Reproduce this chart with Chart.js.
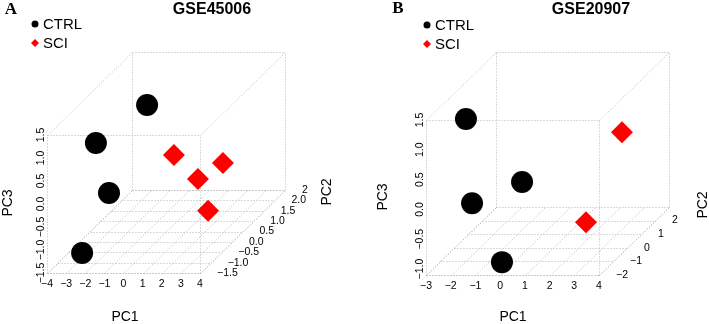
<!DOCTYPE html>
<html>
<head>
<meta charset="utf-8">
<script src="https://cdn.jsdelivr.net/npm/chart.js@4/dist/chart.umd.min.js"></script>
<style>
  html, body { margin: 0; padding: 0; background: #fff; }
  #wrap { position: relative; width: 709px; height: 324px; }
  #wrap canvas { position: absolute; top: 0; }
</style>
</head>
<body>
<div id="wrap">
  <canvas id="chartA" width="355" height="324" style="left:0px"></canvas>
  <canvas id="chartB" width="354" height="324" style="left:355px"></canvas>
</div>
<script>
// ---- GSE45006 (panel A) ----
const ctrlA_pc1 = [-2.10, -3.11, -1.87, -2.72];
const ctrlA_pc2 = [1.5, 0.0, -0.5, -1.0];
const ctrlA_pc3 = [0.80, 0.65, -0.21, -1.29];
const sciA_pc1 = [-0.14, 1.31, 0.56, 2.20];
const sciA_pc2 = [1.0, 2.0, 1.5, 0.5];
const sciA_pc3 = [-0.06, -0.69, -0.81, -1.05];

const pc1RangeA = [-4, 4];
const pc2RangeA = [-1.5, 2.5];
const pc3RangeA = [-1.5, 1.5];
const pc1TicksA = [-4, -3, -2, -1, 0, 1, 2, 3, 4];
const pc1LabelsA = ['\u22124', '\u22123', '\u22122', '\u22121', '0', '1', '2', '3', '4'];
const pc2TicksA = [-1.5, -1.0, -0.5, 0.0, 0.5, 1.0, 1.5, 2.0, 2.5];
const pc2LabelsA = ['\u22121.5', '\u22121.0', '\u22120.5', '0.0', '0.5', '1.0', '1.5', '2.0', '2'];
const pc3TicksA = [-1.5, -1.0, -0.5, 0.0, 0.5, 1.0, 1.5];
const pc3LabelsA = ['\u22121.5', '\u22121.0', '\u22120.5', '0.0', '0.5', '1.0', '1.5'];

// ---- GSE20907 (panel B) ----
const ctrlB_pc1 = [-1.95, -1.42, -0.53, -0.04];
const ctrlB_pc2 = [-1.0, -1.5, 0.5, -1.8];
const ctrlB_pc3 = [1.29, -0.01, -0.11, -0.93];
const sciB_pc1 = [2.38, 2.34];
const sciB_pc2 = [2.5, 0.0];
const sciB_pc3 = [0.27, -0.67];

const pc1RangeB = [-3, 4];
const pc2RangeB = [-2, 3];
const pc3RangeB = [-1.1, 1.5];
const pc1TicksB = [-3, -2, -1, 0, 1, 2, 3, 4];
const pc1LabelsB = ['\u22123', '\u22122', '\u22121', '0', '1', '2', '3', '4'];
const pc2TicksB = [-2, -1, 0, 1, 2];
const pc2LabelsB = ['\u22122', '\u22121', '0', '1', '2'];
const pc3TicksB = [-1.0, -0.5, 0.0, 0.5, 1.0, 1.5];
const pc3LabelsB = ['\u22121.0', '\u22120.5', '0.0', '0.5', '1.0', '1.5'];

const groupNames = ['CTRL', 'SCI'];
const groupColors = ['#000000', '#ff0000'];
const groupShapes = ['circle', 'rectRot'];

const FONT = '"Liberation Sans", Arial, sans-serif';

// oblique projection: PC2 moves points up and to the right
function project(p, x, y, z) {
    var t = (y - p.pc2Range[0]) / (p.pc2Range[1] - p.pc2Range[0]);
    var xs = p.pc1Range[1] - p.pc1Range[0];
    var zs = p.pc3Range[1] - p.pc3Range[0];
    return { x: x + t * xs * p.depth[0] / p.front[0], y: z + t * zs * p.depth[1] / p.front[1] };
}

const box3dPlugin = {
    id: 'box3d',
    beforeDatasetsDraw(chart, args, opts) {
        const p = opts.panel;
        const ctx = chart.ctx;
        const sx = chart.scales.x, sy = chart.scales.y;
        const pt = (x, y, z) => { const q = project(p, x, y, z); return [sx.getPixelForValue(q.x), sy.getPixelForValue(q.y)]; };
        const seg = (a, b) => { ctx.beginPath(); ctx.moveTo(Math.round(a[0]) + 0.5, Math.round(a[1]) + 0.5); ctx.lineTo(Math.round(b[0]) + 0.5, Math.round(b[1]) + 0.5); ctx.stroke(); };
        const [x0, x1] = p.pc1Range, [y0, y1] = p.pc2Range, [z0, z1] = p.pc3Range;

        ctx.save();
        ctx.strokeStyle = '#b4b4b4';
        ctx.lineWidth = 1;
        ctx.setLineDash([1, 2]);
        // floor grid
        p.pc1Ticks.forEach(x => seg(pt(x, y0, z0), pt(x, y1, z0)));
        p.pc2Ticks.forEach(y => seg(pt(x0, y, z0), pt(x1, y, z0)));
        // box
        [y0, y1].forEach(y => {
            seg(pt(x0, y, z0), pt(x1, y, z0));
            seg(pt(x0, y, z1), pt(x1, y, z1));
            seg(pt(x0, y, z0), pt(x0, y, z1));
            seg(pt(x1, y, z0), pt(x1, y, z1));
        });
        [[x0, z0], [x1, z0], [x0, z1], [x1, z1]].forEach(c => seg(pt(c[0], y0, c[1]), pt(c[0], y1, c[1])));
        ctx.restore();
    },
    afterDraw(chart, args, opts) {
        const p = opts.panel;
        const ctx = chart.ctx;
        const sx = chart.scales.x, sy = chart.scales.y;
        const pt = (x, y, z) => { const q = project(p, x, y, z); return [sx.getPixelForValue(q.x), sy.getPixelForValue(q.y)]; };
        const [x0, x1] = p.pc1Range, [y0, y1] = p.pc2Range, [z0, z1] = p.pc3Range;

        ctx.save();
        ctx.fillStyle = '#000';

        // tick labels
        ctx.font = '10.5px ' + FONT;
        ctx.textAlign = 'center';
        ctx.textBaseline = 'middle';
        p.pc1Ticks.forEach((x, i) => {
            const a = pt(x, y0, z0);
            ctx.fillText(p.pc1Labels[i], a[0], a[1] + 11);
        });
        p.pc3Ticks.forEach((z, i) => {
            const a = pt(x0, y0, z);
            ctx.save();
            ctx.translate(a[0] - 6, a[1]);
            ctx.rotate(-Math.PI / 2);
            ctx.fillText(p.pc3Labels[i], 0, 0);
            ctx.restore();
        });
        ctx.textAlign = 'left';
        p.pc2Ticks.forEach((y, i) => {
            const a = pt(x1, y, z0);
            ctx.fillText(p.pc2Labels[i], a[0] + 17, a[1]);
        });

        // axis titles
        ctx.font = '14px ' + FONT;
        ctx.textAlign = 'center';
        ctx.fillText('PC1', p.pc1Pos[0], p.pc1Pos[1]);
        [['PC3', p.pc3Pos], ['PC2', p.pc2Pos]].forEach(it => {
            ctx.save();
            ctx.translate(it[1][0], it[1][1]);
            ctx.rotate(-Math.PI / 2);
            ctx.fillText(it[0], 0, 0);
            ctx.restore();
        });

        // title and panel letter
        ctx.font = 'bold 16px ' + FONT;
        ctx.fillText(p.title, p.titlePos[0], p.titlePos[1]);
        ctx.font = 'bold 17px "Liberation Serif", "Times New Roman", serif';
        ctx.fillText(p.letter, p.letterPos[0], p.letterPos[1]);

        // legend
        ctx.font = '15px ' + FONT;
        ctx.textAlign = 'left';
        chart.data.datasets.forEach((ds, i) => {
            const ly = p.legendRows[i];
            ctx.fillStyle = ds.backgroundColor;
            ctx.beginPath();
            if (ds.pointStyle === 'circle') {
                ctx.arc(p.legendX, ly, 3.5, 0, Math.PI * 2);
            } else {
                ctx.moveTo(p.legendX, ly - 4); ctx.lineTo(p.legendX + 4, ly);
                ctx.lineTo(p.legendX, ly + 4); ctx.lineTo(p.legendX - 4, ly);
                ctx.closePath();
            }
            ctx.fill();
            ctx.fillStyle = '#000';
            ctx.fillText(ds.label, p.legendX + 8, ly + 1);
        });
        ctx.restore();
    }
};

function makePanel(canvasId, p, groups) {
    const W = document.getElementById(canvasId).width;
    const H = document.getElementById(canvasId).height;
    const xs = p.pc1Range[1] - p.pc1Range[0];
    const zs = p.pc3Range[1] - p.pc3Range[0];

    const datasets = groups.map((g, i) => ({
        label: groupNames[i],
        data: g[0].map((v, k) => project(p, v, g[1][k], g[2][k])),
        backgroundColor: groupColors[i],
        borderColor: groupColors[i],
        borderWidth: 0,
        pointStyle: groupShapes[i],
        pointRadius: 11,
        clip: false
    }));

    return new Chart(document.getElementById(canvasId).getContext('2d'), {
        type: 'scatter',
        data: { datasets: datasets },
        options: {
            responsive: false,
            animation: false,
            events: [],
            devicePixelRatio: 1,
            layout: {
                padding: {
                    left: p.left,
                    top: p.bottom - p.front[1] - p.depth[1],
                    right: W - (p.left + p.front[0] + p.depth[0]),
                    bottom: H - p.bottom
                }
            },
            scales: {
                x: { type: 'linear', display: false, min: p.pc1Range[0], max: p.pc1Range[0] + xs * (p.front[0] + p.depth[0]) / p.front[0] },
                y: { type: 'linear', display: false, min: p.pc3Range[0], max: p.pc3Range[0] + zs * (p.front[1] + p.depth[1]) / p.front[1] }
            },
            plugins: {
                legend: { display: false },
                title: { display: false },
                tooltip: { enabled: false },
                box3d: { panel: p }
            }
        },
        plugins: [box3dPlugin]
    });
}

makePanel('chartA', {
    title: 'GSE45006', letter: 'A',
    pc1Range: pc1RangeA, pc2Range: pc2RangeA, pc3Range: pc3RangeA,
    pc1Ticks: pc1TicksA, pc1Labels: pc1LabelsA,
    pc2Ticks: pc2TicksA, pc2Labels: pc2LabelsA,
    pc3Ticks: pc3TicksA, pc3Labels: pc3LabelsA,
    left: 47, bottom: 273, front: [153, 138], depth: [85, 83],
    titlePos: [212, 10], letterPos: [11, 10],
    legendX: 35, legendRows: [24, 43],
    pc1Pos: [125, 317], pc3Pos: [8, 203], pc2Pos: [327, 192]
}, [[ctrlA_pc1, ctrlA_pc2, ctrlA_pc3], [sciA_pc1, sciA_pc2, sciA_pc3]]);

makePanel('chartB', {
    title: 'GSE20907', letter: 'B',
    pc1Range: pc1RangeB, pc2Range: pc2RangeB, pc3Range: pc3RangeB,
    pc1Ticks: pc1TicksB, pc1Labels: pc1LabelsB,
    pc2Ticks: pc2TicksB, pc2Labels: pc2LabelsB,
    pc3Ticks: pc3TicksB, pc3Labels: pc3LabelsB,
    left: 71, bottom: 275, front: [173, 155], depth: [70, 68],
    titlePos: [236, 10], letterPos: [43, 9],
    legendX: 72, legendRows: [25, 44],
    pc1Pos: [158, 317], pc3Pos: [28, 197], pc2Pos: [348, 205]
}, [[ctrlB_pc1, ctrlB_pc2, ctrlB_pc3], [sciB_pc1, sciB_pc2, sciB_pc3]]);
</script>
</body>
</html>
